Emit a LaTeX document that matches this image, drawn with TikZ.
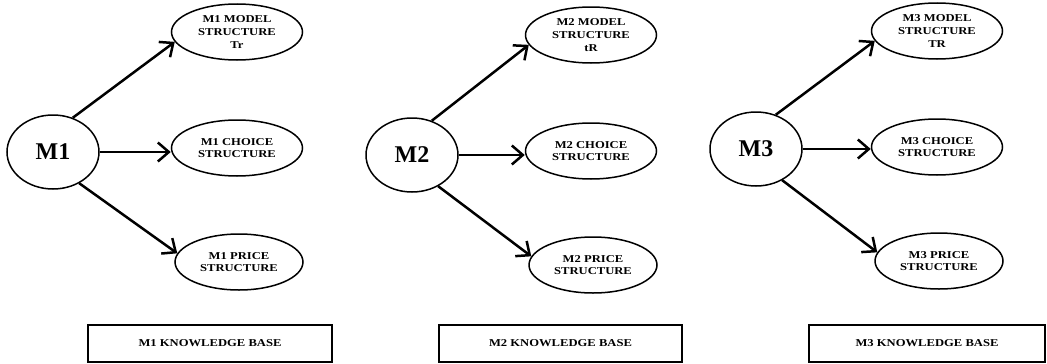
\documentclass[tikz,border=0pt]{standalone}
\usepackage{fontspec}
\setmainfont{Liberation Serif}
\newfontfamily\widefont{Liberation Serif}[FakeStretch=1.2]
\usetikzlibrary{arrows.meta,shapes.geometric}

\tikzset{
  bigoval/.style={draw, line width=1.5pt, ellipse, inner sep=0pt,
    minimum width=92pt, minimum height=74pt,
    font=\fontsize{24}{28}\selectfont\bfseries},
  smalloval/.style={draw, line width=1.5pt, ellipse, inner sep=0pt,
    minimum width=131pt, minimum height=56pt, align=center,
    font=\widefont\fontsize{10.5}{12.7}\selectfont\bfseries},
  kbbox/.style={draw, line width=1.6pt, minimum height=37pt,
    font=\widefont\fontsize{10.5}{12}\selectfont\bfseries},
  link/.style={line width=2.5pt, -{Straight Barb[length=11pt,width=19pt]}}
}

\begin{document}
\begin{tikzpicture}[x=1pt, y=-1pt]
  \useasboundingbox (0,0) rectangle (1047,364);

  \foreach \i/\mx/\my/\sx/\sy/\bx/\bw/\lab in
      {1/53/152/237/32/210/244/Tr, 2/412/155/591/35/560.5/243/tR, 3/756/149/937/31/927/236/TR} {

    \node[bigoval] (main\i) at (\mx,\my) {M\i};

    \node[smalloval] (model\i) at (\sx,\sy) {M\i{} MODEL\\STRUCTURE\\\lab};
    \node[smalloval] (choice\i) at (\sx,\sy+116) {M\i{} CHOICE\\STRUCTURE};
    \node[smalloval, minimum width=128pt] (price\i) at (\sx+2,\sy+230) {M\i{} PRICE\\STRUCTURE};

    \draw[link] (main\i.60) -- (model\i.189);
    \draw[link] (main\i) -- (main\i -| choice\i.west);
    \draw[link] (main\i.310) -- (price\i.172);

    \node[kbbox, minimum width=\bw pt] (kb\i) at (\bx,343.5) {M\i{} KNOWLEDGE BASE};
  }

\end{tikzpicture}
\end{document}
